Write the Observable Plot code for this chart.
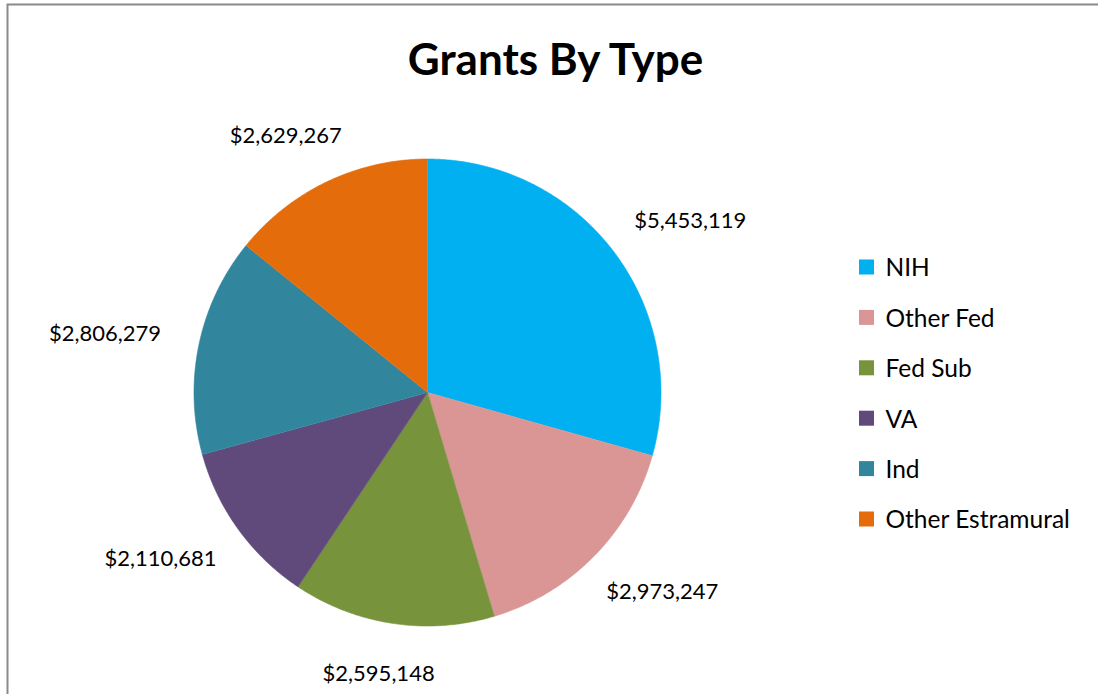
<!DOCTYPE html>
<html>
<head>
<meta charset="utf-8">
<script src="https://cdn.jsdelivr.net/npm/d3@7"></script>
<script src="https://cdn.jsdelivr.net/npm/@observablehq/plot@0.6"></script>
<style>
  html, body { margin: 0; padding: 0; background: #fff; }
  #chart svg { display: block; }
</style>
</head>
<body>
<div id="chart"></div>
<script>
// ---- data ----
const categories = ["NIH", "Other Fed", "Fed Sub", "VA", "Ind", "Other Estramural"];
const values = [5453119, 2973247, 2595148, 2110681, 2806279, 2629267];
const colors = ["#00B0F0", "#D99694", "#77933C", "#604A7B", "#31859C", "#E46C0A"];
const title = "Grants By Type";

// ---- layout ----
const W = 1098, H = 694;
const cx = 427, cy = 392, R = 233.5;   // pie centre (px) and radius
const font = "Lato, Carlito, Calibri, sans-serif";

const rows = categories.map((name, i) => ({name, value: values[i]}));
const arcs = d3.pie().sort(null).value(d => d.value)(rows);

// slice outlines (data units = px, y up, origin at pie centre)
const slicePts = [];
arcs.forEach(a => {
  const n = Math.max(2, Math.ceil((a.endAngle - a.startAngle) / (Math.PI / 360)));
  slicePts.push({name: a.data.name, x: 0, y: 0});
  for (let k = 0; k <= n; k++) {
    const t = a.startAngle + (a.endAngle - a.startAngle) * k / n;
    slicePts.push({name: a.data.name, x: R * Math.sin(t), y: R * Math.cos(t)});
  }
});

// value labels, outside end of each slice
const fmt = d3.format("$,");
const gap = 40, halfW = 56, halfH = 11;
const labels = arcs.map(a => {
  const m = (a.startAngle + a.endAngle) / 2;
  const s = Math.sin(m), c = Math.cos(m);
  return {
    text: fmt(a.data.value),
    x: (R + gap) * s + halfW * s,
    y: (R + gap) * c + halfH * c
  };
});

// legend rows
const legX = 859 - cx, legTop = cy - 267, legStep = 50.4, sq = 15;
const legend = categories.map((name, i) => ({name, y: legTop - i * legStep}));

const color = {type: "ordinal", domain: categories, range: colors};

const chart = Plot.plot({
  width: W, height: H,
  margin: 0,
  style: {fontFamily: font, background: "#fff"},
  x: {domain: [-cx, W - cx], range: [0, W], axis: null},
  y: {domain: [-(H - cy), cy], range: [H, 0], axis: null},
  color,
  marks: [
    Plot.frame({stroke: "#8a8a8a", strokeWidth: 2, insetLeft: 7, insetTop: 4, insetRight: -10, insetBottom: -10}),
    Plot.line(slicePts, {x: "x", y: "y", z: "name", fill: "name", stroke: "name", strokeWidth: 0.6, curve: "linear"}),
    Plot.text(labels, {x: "x", y: "y", text: "text", fontSize: 22, fill: "#000", textAnchor: "middle", lineAnchor: "middle"}),
    Plot.rect(legend, {x1: legX, x2: legX + sq, y1: d => d.y - sq / 2, y2: d => d.y + sq / 2, fill: "name"}),
    Plot.text(legend, {x: legX + 26, y: "y", text: "name", fontSize: 24.5, fill: "#000", textAnchor: "start", lineAnchor: "middle", dy: 1}),
    Plot.text([title], {x: 555 - cx, y: cy - 60, text: d => d, fontSize: 44, fontWeight: "bold", fill: "#000", textAnchor: "middle", lineAnchor: "middle"})
  ]
});
document.getElementById("chart").appendChild(chart);
</script>
</body>
</html>
